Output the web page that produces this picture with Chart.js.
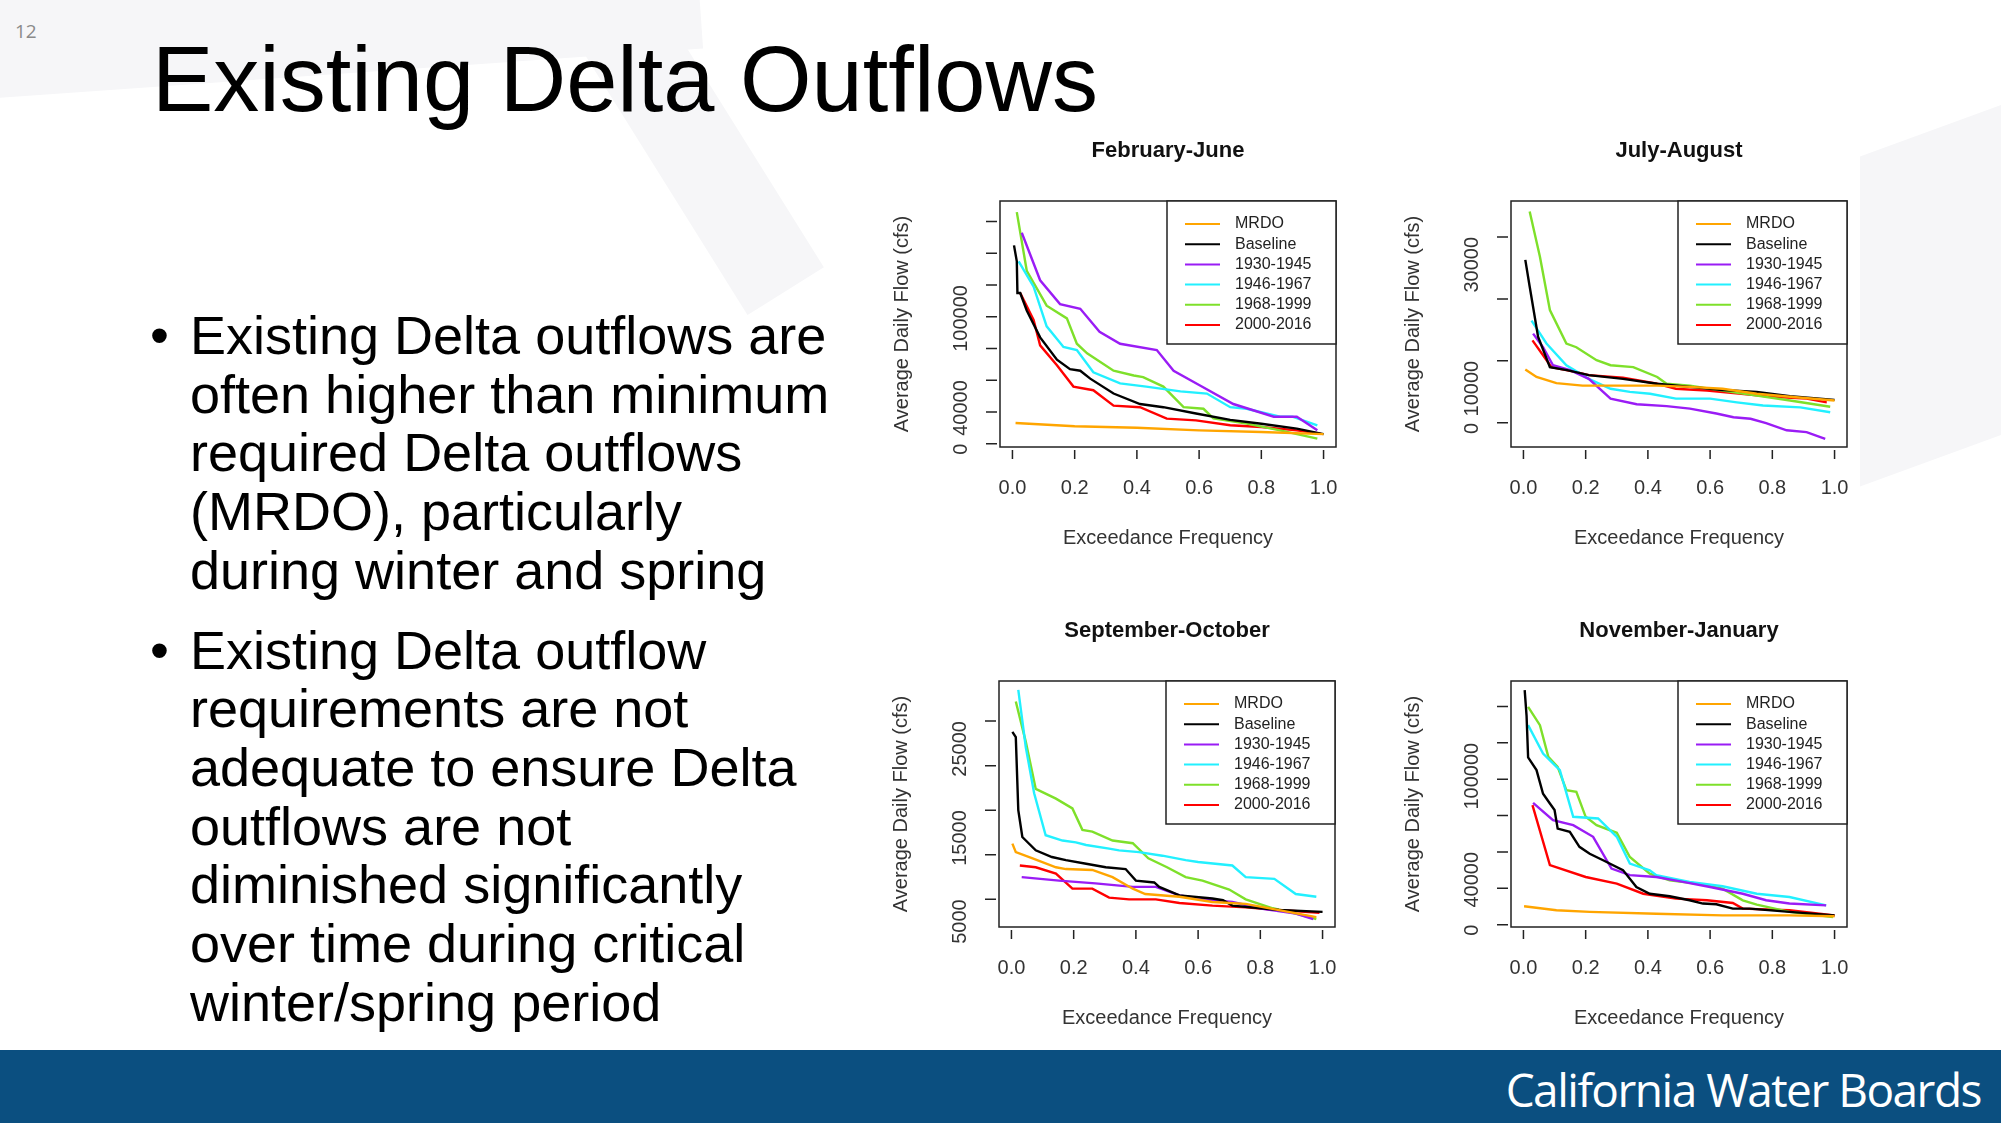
<!DOCTYPE html>
<html lang="en">
<head>
<meta charset="UTF-8">
<title>Existing Delta Outflows</title>
<script src="https://cdn.jsdelivr.net/npm/chart.js@4.4.0/dist/chart.umd.min.js"></script>
<style>
  body { margin: 0; width: 2001px; height: 1123px; position: relative; overflow: hidden; background: #fff; font-family: "Liberation Sans", Arial, sans-serif; }
  .swoosh { position: absolute; background: #f6f6f8; }
  #num { position: absolute; left: 15px; top: 18px; font-size: 19px; color: #8a8a8a; font-family: "Open Sans", sans-serif; }
  h1 { position: absolute; left: 152px; top: 33px; margin: 0; font-weight: normal; font-size: 92px; line-height: 1; }
  .txt { position: absolute; left: 150px; top: 306px; font-size: 54px; line-height: 58.7px; white-space: nowrap; }
  .txt p { position: relative; margin: 0 0 21px 0; padding-left: 40px; }
  .txt p::before { content: "\2022"; position: absolute; left: 0; }
  #footer { position: absolute; left: 0; top: 1050px; width: 2001px; height: 73px; background: #0b4f80; }
  #footer span { position: absolute; right: 20px; top: 8px; color: #fff; font-family: "Open Sans", sans-serif; font-size: 46px; letter-spacing: -1.5px; }
  .panel { position: absolute; width: 490px; height: 440px; }
</style>
</head>
<body>
<div class="swoosh" style="left:-200px;top:-40px;width:900px;height:120px;transform:rotate(-4deg);"></div>
<div class="swoosh" style="left:640px;top:-60px;width:90px;height:380px;transform:rotate(-32deg);"></div>
<div class="swoosh" style="left:1860px;top:120px;width:200px;height:330px;transform:skewY(-20deg);"></div>
<div id="num">12</div>
<h1>Existing Delta Outflows</h1>
<div class="txt">
  <p>Existing Delta outflows are<br>often higher than minimum<br>required Delta outflows<br>(MRDO), particularly<br>during winter and spring</p>
  <p>Existing Delta outflow<br>requirements are not<br>adequate to ensure Delta<br>outflows are not<br>diminished significantly<br>over time during critical<br>winter/spring period</p>
</div>
<div class="panel" style="left:880px;top:130px;"><canvas id="c1"></canvas></div>
<div class="panel" style="left:1391px;top:130px;"><canvas id="c2"></canvas></div>
<div class="panel" style="left:879px;top:610px;"><canvas id="c3"></canvas></div>
<div class="panel" style="left:1391px;top:610px;"><canvas id="c4"></canvas></div>
<div id="footer"><span>California Water Boards</span></div>

<script>
// series names and colours
const seriesNames = ['MRDO', 'Baseline', '1930-1945', '1946-1967', '1968-1999', '2000-2016'];
const seriesColors = ['#ffa500', '#000000', '#9a1cf5', '#22f0ff', '#7ee02a', '#ff0000'];
const xTicks = [0, 0.2, 0.4, 0.6, 0.8, 1.0];

// February-June  [exceedance, cfs]
const febJunMRDO = [[0.01,13000],[0.2,11000],[0.4,10000],[0.6,8400],[0.8,7400],[1.0,6000]];
const febJunBase = [[0.005,125000],[0.014,115000],[0.016,95000],[0.025,95000],[0.046,84000],[0.089,67000],[0.143,53000],[0.185,47000],[0.218,46000],[0.25,41000],[0.325,31600],[0.41,25000],[0.485,23000],[0.59,19000],[0.7,15000],[0.8,12600],[0.914,9500],[1.0,6000]];
const febJun1930 = [[0.03,133000],[0.089,103000],[0.153,88000],[0.218,85000],[0.28,70500],[0.346,63000],[0.464,59000],[0.518,46000],[0.6,37000],[0.71,25000],[0.84,17000],[0.914,17000],[0.98,8400]];
const febJun1946 = [[0.02,115000],[0.068,99000],[0.11,74000],[0.164,61000],[0.207,59000],[0.26,45000],[0.346,38000],[0.43,36000],[0.54,33000],[0.625,31600],[0.7,23000],[0.753,22000],[0.86,17000],[0.9,17000],[0.98,11600]];
const febJun1968 = [[0.014,146000],[0.046,109000],[0.11,87000],[0.175,79000],[0.207,63000],[0.24,57000],[0.325,46000],[0.39,43000],[0.42,42000],[0.485,36000],[0.55,23000],[0.614,22000],[0.646,16000],[0.753,12600],[0.86,8400],[0.98,3200]];
const febJun2000 = [[0.025,95000],[0.068,78000],[0.089,62000],[0.143,49500],[0.196,36000],[0.26,33700],[0.325,24000],[0.41,23000],[0.496,15800],[0.59,14700],[0.7,11600],[0.8,10500],[0.914,8400],[0.99,6300]];

// July-August
const julAugMRDO = [[0.006,8600],[0.042,7400],[0.106,6400],[0.19,6000],[0.32,6000],[0.43,6000],[0.535,5800],[0.64,5500],[0.75,4700],[0.857,4200],[1.0,3600]];
const julAugBase = [[0.006,26300],[0.02,22000],[0.047,13900],[0.085,9000],[0.14,8500],[0.21,7700],[0.32,7100],[0.43,6300],[0.535,5800],[0.64,5300],[0.75,5000],[0.857,4300],[1.0,3700]];
const julAug1930 = [[0.031,14400],[0.063,12200],[0.095,9300],[0.15,8500],[0.21,7100],[0.28,3900],[0.364,3000],[0.46,2700],[0.535,2300],[0.62,1500],[0.675,900],[0.73,650],[0.78,-50],[0.846,-1200],[0.91,-1500],[0.97,-2600]];
const julAug1946 = [[0.026,16500],[0.074,12800],[0.138,9300],[0.21,7100],[0.28,5500],[0.342,5000],[0.407,4700],[0.49,3900],[0.6,3900],[0.686,3300],[0.77,2800],[0.89,2500],[0.986,1700]];
const julAug1968 = [[0.02,34100],[0.053,26800],[0.085,18200],[0.138,12800],[0.17,12200],[0.235,10100],[0.28,9300],[0.353,9000],[0.43,7400],[0.46,6300],[0.535,6000],[0.64,5200],[0.75,4400],[0.857,3600],[0.986,2600]];
const julAug2000 = [[0.029,13300],[0.09,9000],[0.15,8400],[0.21,7700],[0.32,7300],[0.43,6300],[0.49,5500],[0.59,5200],[0.7,4700],[0.8,4200],[0.91,3900],[0.975,3300]];

// September-October
const sepOctMRDO = [[0.003,11250],[0.014,10300],[0.068,9600],[0.143,8600],[0.175,8400],[0.26,8300],[0.325,7500],[0.39,6200],[0.43,5600],[0.54,5300],[0.646,4700],[0.753,4500],[0.86,3800],[0.98,3000]];
const sepOctBase = [[0.003,23800],[0.014,23200],[0.022,15000],[0.035,12000],[0.078,10500],[0.13,9750],[0.175,9400],[0.24,9000],[0.303,8600],[0.367,8400],[0.4,7100],[0.459,6900],[0.475,6400],[0.54,5450],[0.646,5100],[0.68,4900],[0.71,4300],[0.86,3800],[1.0,3600]];
const sepOct1930 = [[0.033,7500],[0.153,7100],[0.27,6800],[0.39,6400],[0.464,6400],[0.54,5450],[0.646,4900],[0.71,4700],[0.807,3950],[0.914,3400],[0.97,2800]];
const sepOct1946 = [[0.022,28500],[0.046,22100],[0.073,16900],[0.11,12200],[0.164,11600],[0.207,11400],[0.24,11100],[0.314,10700],[0.346,10500],[0.41,10300],[0.485,9900],[0.56,9400],[0.6,9200],[0.71,8800],[0.753,7500],[0.845,7300],[0.914,5600],[0.98,5300]];
const sepOct1968 = [[0.014,27200],[0.046,22700],[0.078,17400],[0.143,16300],[0.196,15200],[0.228,12800],[0.26,12600],[0.325,11600],[0.39,11300],[0.44,9600],[0.5,8600],[0.56,7500],[0.614,7100],[0.7,6100],[0.753,5000],[0.84,4000],[0.914,3400],[0.98,2800]];
const sepOct2000 = [[0.027,8800],[0.078,8600],[0.143,7900],[0.196,6200],[0.26,6200],[0.314,5200],[0.378,5000],[0.464,5000],[0.54,4600],[0.646,4300],[0.753,4100],[0.86,3800],[0.99,3500]];

// November-January
const novJanMRDO = [[0.002,10100],[0.106,7900],[0.213,7000],[0.427,6000],[0.64,5100],[0.855,5100],[1.0,4600]];
const novJanBase = [[0.004,129000],[0.01,115000],[0.015,92000],[0.042,85000],[0.063,72000],[0.085,66600],[0.1,63000],[0.11,52800],[0.149,51000],[0.18,42800],[0.213,39000],[0.256,35400],[0.32,30000],[0.363,20700],[0.406,17000],[0.47,15600],[0.534,13400],[0.577,11600],[0.62,11200],[0.673,8800],[0.727,8800],[0.855,7000],[1.0,5100]];
const novJan1930 = [[0.031,67000],[0.095,57400],[0.16,54700],[0.224,48300],[0.283,30800],[0.342,27200],[0.427,26200],[0.513,23500],[0.6,20700],[0.705,17000],[0.78,13400],[0.855,11600],[0.973,10600]];
const novJan1946 = [[0.015,109700],[0.063,94100],[0.117,85000],[0.16,59300],[0.24,58400],[0.3,48300],[0.342,33600],[0.406,29900],[0.427,27200],[0.534,23500],[0.64,21100],[0.75,17000],[0.855,15200],[0.973,10600]];
const novJan1968 = [[0.015,119800],[0.053,109700],[0.08,92300],[0.11,86800],[0.138,74000],[0.17,73000],[0.2,59300],[0.235,54700],[0.3,50500],[0.342,37200],[0.406,28000],[0.47,24400],[0.556,22600],[0.64,19800],[0.705,13400],[0.75,11000],[0.855,7000],[0.995,4200]];
const novJan2000 = [[0.029,65700],[0.085,32700],[0.2,26200],[0.3,22600],[0.385,17000],[0.49,14300],[0.59,13400],[0.673,11900],[0.705,8800],[0.855,7900],[1.0,5100]];

// y-axis ranges, tick steps and which tick values R printed
const panelTitles = ['February-June', 'July-August', 'September-October', 'November-January'];
const yMins = [-2100, -3900, 1900, -1300];
const yMaxs = [153000, 35800, 29500, 134000];
const yStarts = [0, 0, 5000, 0];
const ySteps = [20000, 10000, 5000, 20000];
const yLabelled = [[0, 40000, 100000], [0, 10000, 30000], [5000, 15000, 25000], [0, 40000, 100000]];

const panelSeries = [
  [febJunMRDO, febJunBase, febJun1930, febJun1946, febJun1968, febJun2000],
  [julAugMRDO, julAugBase, julAug1930, julAug1946, julAug1968, julAug2000],
  [sepOctMRDO, sepOctBase, sepOct1930, sepOct1946, sepOct1968, sepOct2000],
  [novJanMRDO, novJanBase, novJan1930, novJan1946, novJan1968, novJan2000]
];

const fam = '"Liberation Sans", Arial, sans-serif';

// box around the plot, outward tick marks, title over the plot, legend inside top-right
const rFrame = {
  id: 'rFrame',
  afterDatasetsDraw(chart) {
    const { ctx, chartArea: a, scales } = chart;
    ctx.save();
    ctx.fillStyle = '#111';
    ctx.font = 'bold 22px ' + fam;
    ctx.textAlign = 'center';
    ctx.textBaseline = 'middle';
    ctx.fillText(chart.options.plugins.rFrame.title, (a.left + a.right) / 2, 21);

    ctx.strokeStyle = '#222';
    ctx.lineWidth = 1.5;
    ctx.strokeRect(a.left, a.top, a.right - a.left, a.bottom - a.top);
    ctx.beginPath();
    scales.x.ticks.forEach(t => {
      const px = scales.x.getPixelForValue(t.value);
      ctx.moveTo(px, a.bottom + 3); ctx.lineTo(px, a.bottom + 12);
    });
    scales.y.ticks.forEach(t => {
      const py = scales.y.getPixelForValue(t.value);
      ctx.moveTo(a.left - 3, py); ctx.lineTo(a.left - 14, py);
    });
    ctx.stroke();

    const w = 169, h = 143, bx = a.right - w, by = a.top;
    ctx.fillStyle = '#fff';
    ctx.fillRect(bx, by, w, h);
    ctx.strokeRect(bx, by, w, h);
    ctx.font = '16px ' + fam;
    ctx.textAlign = 'left';
    chart.data.datasets.forEach((ds, i) => {
      const y = by + 23 + i * 20.2;
      ctx.strokeStyle = ds.borderColor;
      ctx.lineWidth = 2;
      ctx.beginPath(); ctx.moveTo(bx + 18, y); ctx.lineTo(bx + 53, y); ctx.stroke();
      ctx.fillStyle = '#222';
      ctx.fillText(ds.label, bx + 68, y);
    });
    ctx.restore();
  }
};

const font = { family: fam, size: 20 };

panelSeries.forEach((series, p) => {
  new Chart(document.getElementById('c' + (p + 1)), {
    type: 'line',
    data: {
      datasets: series.map((pts, i) => ({
        label: seriesNames[i],
        data: pts.map(([x, y]) => ({ x, y })),
        borderColor: seriesColors[i],
        borderWidth: 2.4,
        pointRadius: 0,
        tension: 0
      }))
    },
    options: {
      responsive: true,
      maintainAspectRatio: false,
      animation: false,
      layout: { padding: { top: 71, right: 34, left: 0, bottom: 0 } },
      plugins: {
        legend: { display: false },
        tooltip: { enabled: false },
        rFrame: { title: panelTitles[p] }
      },
      scales: {
        x: {
          type: 'linear', min: -0.04, max: 1.04,
          afterBuildTicks: s => { s.ticks = xTicks.map(v => ({ value: v })); },
          afterFit: s => { s.height = 123; },
          grid: { display: false }, border: { display: false },
          ticks: { color: '#333', font, padding: 21, autoSkip: false, callback: v => v.toFixed(1) },
          title: { display: true, text: 'Exceedance Frequency', color: '#333', font, padding: { top: 10, bottom: 20 } }
        },
        y: {
          type: 'linear', min: yMins[p], max: yMaxs[p],
          afterBuildTicks: s => {
            const t = [];
            for (let v = yStarts[p]; v <= yMaxs[p]; v += ySteps[p]) t.push({ value: v });
            s.ticks = t;
          },
          afterFit: s => { s.width = 120; },
          grid: { display: false }, border: { display: false },
          ticks: {
            color: '#333', font, padding: 31, minRotation: 90, maxRotation: 90, autoSkip: false,
            callback: v => yLabelled[p].includes(v) ? String(v) : ''
          },
          title: { display: true, text: 'Average Daily Flow (cfs)', color: '#333', font, padding: { top: 10, bottom: 0 } }
        }
      }
    },
    plugins: [rFrame]
  });
});
</script>
</body>
</html>
